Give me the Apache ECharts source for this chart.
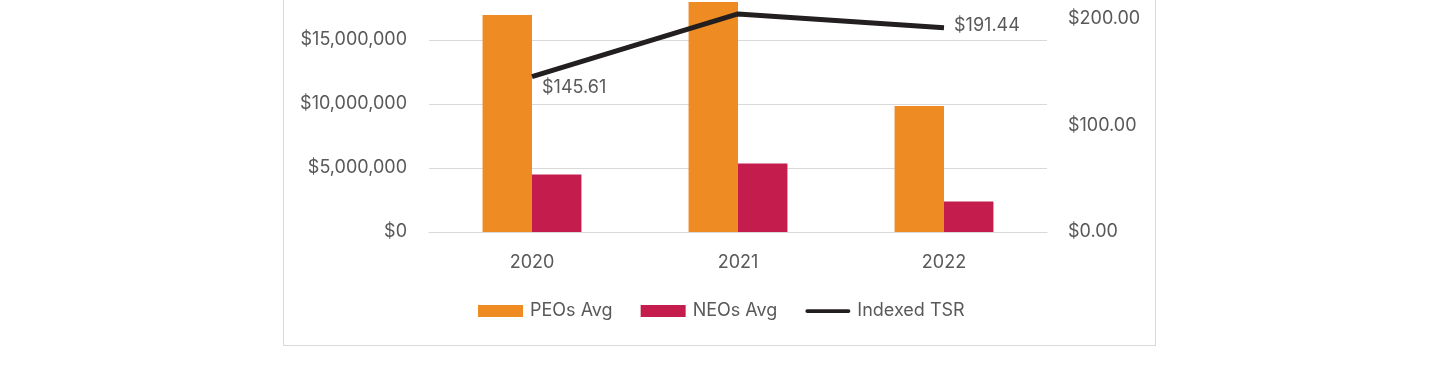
<!DOCTYPE html>
<html>
<head>
<meta charset="utf-8">
<script src="https://cdn.jsdelivr.net/npm/echarts@6/dist/echarts.min.js"></script>
<style>
  html, body { margin: 0; padding: 0; background: #fff; overflow: hidden; }
  body { width: 1440px; height: 375px; position: relative; }
  #frame { position: absolute; left: 283px; top: -40px; width: 871px; height: 384px; border: 1px solid #d9d9d9; }
  #chart { position: absolute; left: 0; top: -120px; width: 1440px; height: 495px; }
</style>
</head>
<body>
<div id="frame"></div>
<div id="chart"></div>
<script>
// values
const years = ['2020', '2021', '2022'];
const peosAvg = [16950000, 17970000, 9840000];
const neosAvg = [4490000, 5350000, 2380000];
const indexedTsr = [145.61, 204.4, 191.44];

const grey = '#595959';
const font = 'Inter';

const chart = echarts.init(document.getElementById('chart'));

const money = v => '$' + v.toLocaleString('en-US');

const option = {
    animation: false,
    textStyle: { fontFamily: font },
    grid: { left: 429, right: 393, top: 32, bottom: 143 },
    legend: {
        left: 473,
        top: 417,
        itemWidth: 45,
        itemHeight: 12,
        itemGap: 28,
        textStyle: { color: grey, fontSize: 18, fontFamily: font, padding: [0, 0, 0, 2] },
        data: [
            { name: 'PEOs Avg', icon: 'rect' },
            { name: 'NEOs Avg', icon: 'rect' },
            { name: 'Indexed TSR', icon: 'path://M2,0 H46 A2,2 0 0 1 46,4 H2 A2,2 0 0 1 2,0 Z' }
        ]
    },
    xAxis: {
        type: 'category',
        data: years,
        axisLine: { lineStyle: { color: '#d9d9d9', width: 1 } },
        axisTick: { show: false },
        axisLabel: { color: grey, fontSize: 18, margin: 22 }
    },
    yAxis: [
        {
            type: 'value',
            min: 0,
            max: 25000000,
            interval: 5000000,
            axisLabel: { color: grey, fontSize: 18, margin: 22, formatter: money },
            splitLine: { lineStyle: { color: '#d9d9d9', width: 1 } }
        },
        {
            type: 'value',
            min: 0,
            max: 300,
            interval: 100,
            axisLabel: { color: grey, fontSize: 18, margin: 21, formatter: v => '$' + v.toFixed(2) },
            splitLine: { show: false }
        }
    ],
    series: [
        {
            name: 'PEOs Avg',
            type: 'bar',
            data: peosAvg,
            itemStyle: { color: '#EE8B22' },
            barGap: '0%',
            barCategoryGap: '52%'
        },
        {
            name: 'NEOs Avg',
            type: 'bar',
            data: neosAvg,
            itemStyle: { color: '#C41C4C' }
        },
        {
            name: 'Indexed TSR',
            type: 'line',
            yAxisIndex: 1,
            data: indexedTsr.map((v, i) => ({
                value: v,
                label: {
                    show: i !== 1,
                    position: 'right',
                    distance: 10,
                    offset: i === 0 ? [0, 11] : [0, -2]
                }
            })),
            symbol: 'circle',
            symbolSize: 0.1,
            showSymbol: true,
            lineStyle: { color: '#231f20', width: 5 },
            itemStyle: { color: '#231f20' },
            label: {
                color: grey,
                fontSize: 18,
                formatter: p => '$' + p.value.toFixed(2)
            }
        }
    ]
};

chart.setOption(option);
</script>
</body>
</html>
